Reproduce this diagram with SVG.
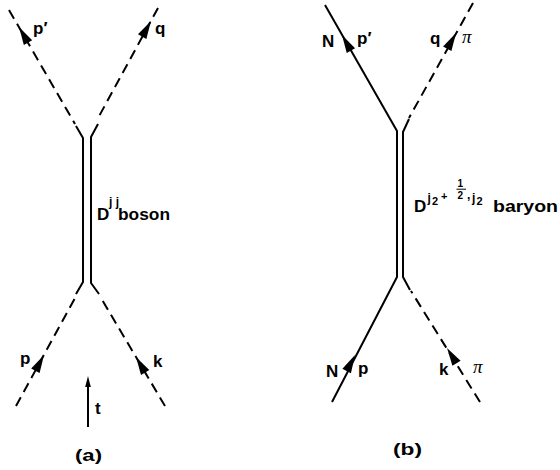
<svg xmlns="http://www.w3.org/2000/svg" width="560" height="470" viewBox="0 0 560 470">
<style>
.ln{fill:none;stroke:#000;stroke-width:2;stroke-linecap:butt;stroke-linejoin:round}
.ds{stroke-dasharray:10 6}
.lb{font-family:"Liberation Sans",Arial,sans-serif;font-weight:bold;fill:#000}
.m{font-size:17px}
.big{font-size:17px}
.sup{font-size:12px}
.sub{font-size:11px}
.fr{font-size:10px}
.pi{font-family:"Liberation Serif","Times New Roman",serif;font-style:italic;font-size:19px;fill:#000}
</style>
<defs>
<path id="ah" d="M0,0 L-18,-4.8 L-18,4.8 Z" fill="#000"/>
<path id="ahs" d="M0,0 L-11,-2.8 L-11,2.8 Z" fill="#000"/>
</defs>
<rect width="560" height="470" fill="#fff"/>
<g id="connectors">
  <path class="ln ds" d="M9,10 L75,124"/>
  <path class="ln ds" d="M158,8 L97,120"/>
  <path class="ln ds" d="M16,406 L75,298"/>
  <path class="ln ds" d="M165,406 L101,298"/>
  <path class="ln" d="M76,126 L83,138 L83,282 L76,294"/>
  <path class="ln" d="M98,124 L91,137 L91,283 L99,294"/>
  <path class="ln" d="M88,427 L88,382" stroke-width="1.6"/>
  <use href="#ah" transform="translate(19,27) rotate(-120.1)"/>
  <use href="#ah" transform="translate(151,21) rotate(-60.6)"/>
  <use href="#ah" transform="translate(44,355) rotate(-61.4)"/>
  <use href="#ah" transform="translate(136,357) rotate(-120.6)"/>
  <use href="#ahs" transform="translate(88,376) rotate(-90)"/>
  <path class="ln" d="M325,5 L397,131 L397,277 L332,402"/>
  <path class="ln ds" d="M473,3 L409,118"/>
  <path class="ln" d="M409,119 L403,132 L403,277 L410,290"/>
  <path class="ln ds" d="M480,402 L411,291"/>
  <use href="#ah" transform="translate(342,35) rotate(-119.7)"/>
  <use href="#ah" transform="translate(456,33) rotate(-60.9)"/>
  <use href="#ah" transform="translate(355,355) rotate(-62.4)"/>
  <use href="#ah" transform="translate(447,348) rotate(-121.9)"/>
</g>
<g id="node-a-labels">
  <text class="lb m" x="33" y="34">p′</text>
  <text class="lb m" x="155" y="34">q</text>
  <text class="lb m" x="20" y="364">p</text>
  <text class="lb m" x="153" y="367">k</text>
  <text class="lb m" x="95" y="414">t</text>
  <text class="lb m" x="75" y="461" textLength="27" lengthAdjust="spacingAndGlyphs">(a)</text>
</g>
<g id="node-a-boson">
  <text class="lb big" x="97" y="220">D</text>
  <text class="lb sup" x="109" y="206">j j</text>
  <text class="lb big" x="118" y="220" textLength="52" lengthAdjust="spacingAndGlyphs">boson</text>
</g>
<g id="node-b-labels">
  <text class="lb m" x="322" y="47">N</text>
  <text class="lb m" x="357" y="44">p′</text>
  <text class="lb m" x="430" y="44">q</text>
  <text class="pi" x="462" y="43">π</text>
  <text class="lb m" x="326" y="377">N</text>
  <text class="lb m" x="358" y="374">p</text>
  <text class="lb m" x="439" y="375">k</text>
  <text class="pi" x="473" y="373">π</text>
  <text class="lb m" x="393" y="455" textLength="29" lengthAdjust="spacingAndGlyphs">(b)</text>
</g>
<g id="node-b-baryon">
  <text class="lb big" x="414" y="212">D</text>
  <text class="lb sup" x="427.5" y="202">j</text>
  <text class="lb sub" x="432" y="205">2</text>
  <text class="lb sub" x="441" y="200">+</text>
  <text class="lb fr" x="457.5" y="187">1</text>
  <line x1="456.5" y1="189.2" x2="466" y2="189.2" stroke="#000" stroke-width="1"/>
  <text class="lb fr" x="457.5" y="198.5">2</text>
  <text class="lb sup" x="467" y="199">,</text>
  <text class="lb sup" x="472" y="202">j</text>
  <text class="lb sub" x="476.5" y="205">2</text>
  <text class="lb big" x="493" y="212" textLength="65" lengthAdjust="spacingAndGlyphs">baryon</text>
</g>
</svg>
